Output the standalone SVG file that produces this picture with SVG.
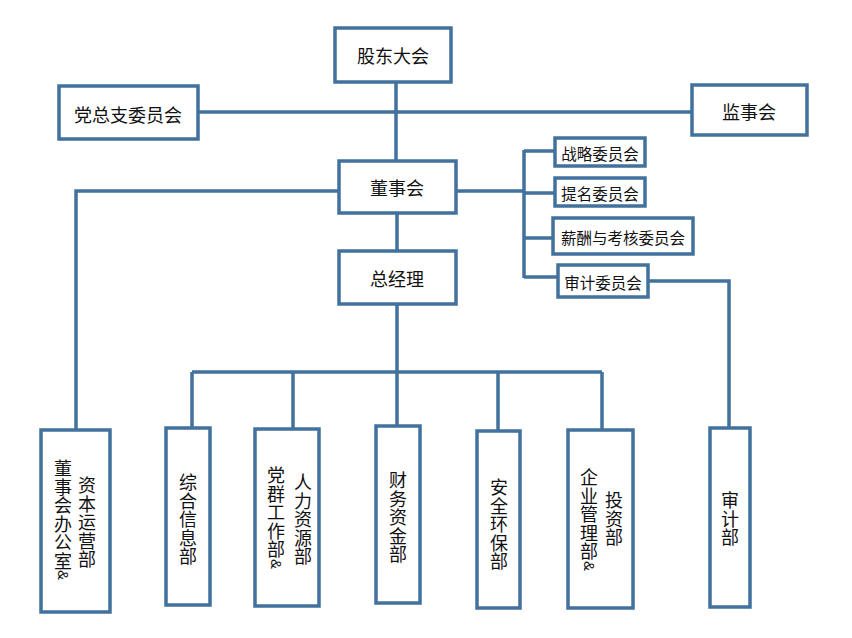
<svg xmlns="http://www.w3.org/2000/svg" width="852" height="638" viewBox="0 0 852 638">
<style>
.box{fill:#fff;stroke:#41719C;stroke-width:3.5}
.ln{fill:none;stroke:#41719C;stroke-width:3.5;stroke-linejoin:miter}
.t{font-family:"Noto Sans CJK SC","Noto Sans",sans-serif;font-size:18px;fill:#111;text-anchor:middle;dominant-baseline:central}
.c{font-size:15.5px}
.amp{font-family:"Liberation Sans","Noto Sans",sans-serif;font-size:15px}
</style>
<rect width="852" height="638" fill="#fff"/>
<g id="connectors">
<path class="ln" d="M396 82V161"/>
<path class="ln" d="M198 112H692"/>
<path class="ln" d="M397 213V251"/>
<path class="ln" d="M456 191H524M524 150V278M524 151H555M524 193H555M524 238H553M524 277H558"/>
<path class="ln" d="M648 281H729V428"/>
<path class="ln" d="M339 191H76V430"/>
<path class="ln" d="M397 304V372M192 372H602M192 372V428M293 372V429M397 372V426M498 372V431M602 372V430"/>
</g>
<g id="n-gudong"><rect class="box" x="335" y="28" width="116" height="54"/><text class="t" x="393" y="55">股东大会</text></g>
<g id="n-dangzongzhi"><rect class="box" x="59" y="86" width="139" height="53"/><text class="t" x="128" y="114">党总支委员会</text></g>
<g id="n-jianshi"><rect class="box" x="692" y="85" width="115" height="50"/><text class="t" x="749" y="111">监事会</text></g>
<g id="n-dongshi"><rect class="box" x="339" y="161" width="117" height="52"/><text class="t" x="397" y="187">董事会</text></g>
<g id="n-zongjingli"><rect class="box" x="339" y="251" width="117" height="53"/><text class="t" x="397" y="278">总经理</text></g>
<g id="n-zhanlue"><rect class="box" x="555" y="138" width="90" height="28"/><text class="t c" x="600" y="153">战略委员会</text></g>
<g id="n-timing"><rect class="box" x="555" y="178" width="90" height="28"/><text class="t c" x="600" y="193">提名委员会</text></g>
<g id="n-xinchou"><rect class="box" x="553" y="218" width="140" height="36"/><text class="t c" x="623" y="237">薪酬与考核委员会</text></g>
<g id="n-shenjiwei"><rect class="box" x="558" y="265" width="90" height="32"/><text class="t c" x="603" y="282">审计委员会</text></g>
<g id="n-dongban"><rect class="box" x="41" y="430" width="69" height="182"/>
<text class="t"><tspan x="87" y="484">资</tspan><tspan x="87" y="502.5">本</tspan><tspan x="87" y="521">运</tspan><tspan x="87" y="539.5">营</tspan><tspan x="87" y="558">部</tspan></text>
<text class="t"><tspan x="63" y="467">董</tspan><tspan x="63" y="485.5">事</tspan><tspan x="63" y="504">会</tspan><tspan x="63" y="522.5">办</tspan><tspan x="63" y="541">公</tspan><tspan x="63" y="559.5">室</tspan></text>
<text class="t amp" transform="translate(63 575) rotate(90)">&amp;</text></g>
<g id="n-zonghe"><rect class="box" x="166" y="428" width="44" height="177"/>
<text class="t"><tspan x="188" y="481">综</tspan><tspan x="188" y="499.5">合</tspan><tspan x="188" y="518">信</tspan><tspan x="188" y="536.5">息</tspan><tspan x="188" y="555">部</tspan></text></g>
<g id="n-renli"><rect class="box" x="255" y="429" width="64" height="177"/>
<text class="t"><tspan x="303" y="481">人</tspan><tspan x="303" y="499.5">力</tspan><tspan x="303" y="518">资</tspan><tspan x="303" y="536.5">源</tspan><tspan x="303" y="555">部</tspan></text>
<text class="t"><tspan x="276" y="474">党</tspan><tspan x="276" y="492.5">群</tspan><tspan x="276" y="511">工</tspan><tspan x="276" y="529.5">作</tspan><tspan x="276" y="548">部</tspan></text>
<text class="t amp" transform="translate(276 564) rotate(90)">&amp;</text></g>
<g id="n-caiwu"><rect class="box" x="376" y="426" width="44" height="177"/>
<text class="t"><tspan x="398" y="479">财</tspan><tspan x="398" y="497.5">务</tspan><tspan x="398" y="516">资</tspan><tspan x="398" y="534.5">金</tspan><tspan x="398" y="553">部</tspan></text></g>
<g id="n-anquan"><rect class="box" x="477" y="431" width="43" height="177"/>
<text class="t"><tspan x="499" y="486">安</tspan><tspan x="499" y="504.5">全</tspan><tspan x="499" y="523">环</tspan><tspan x="499" y="541.5">保</tspan><tspan x="499" y="560">部</tspan></text></g>
<g id="n-qiye"><rect class="box" x="568" y="430" width="65" height="178"/>
<text class="t"><tspan x="614" y="499">投</tspan><tspan x="614" y="517.5">资</tspan><tspan x="614" y="536">部</tspan></text>
<text class="t"><tspan x="589" y="476">企</tspan><tspan x="589" y="494.5">业</tspan><tspan x="589" y="513">管</tspan><tspan x="589" y="531.5">理</tspan><tspan x="589" y="550">部</tspan></text>
<text class="t amp" transform="translate(589 566) rotate(90)">&amp;</text></g>
<g id="n-shenjibu"><rect class="box" x="710" y="428" width="40" height="179"/>
<text class="t"><tspan x="730" y="499">审</tspan><tspan x="730" y="517.5">计</tspan><tspan x="730" y="536">部</tspan></text></g>
</svg>
